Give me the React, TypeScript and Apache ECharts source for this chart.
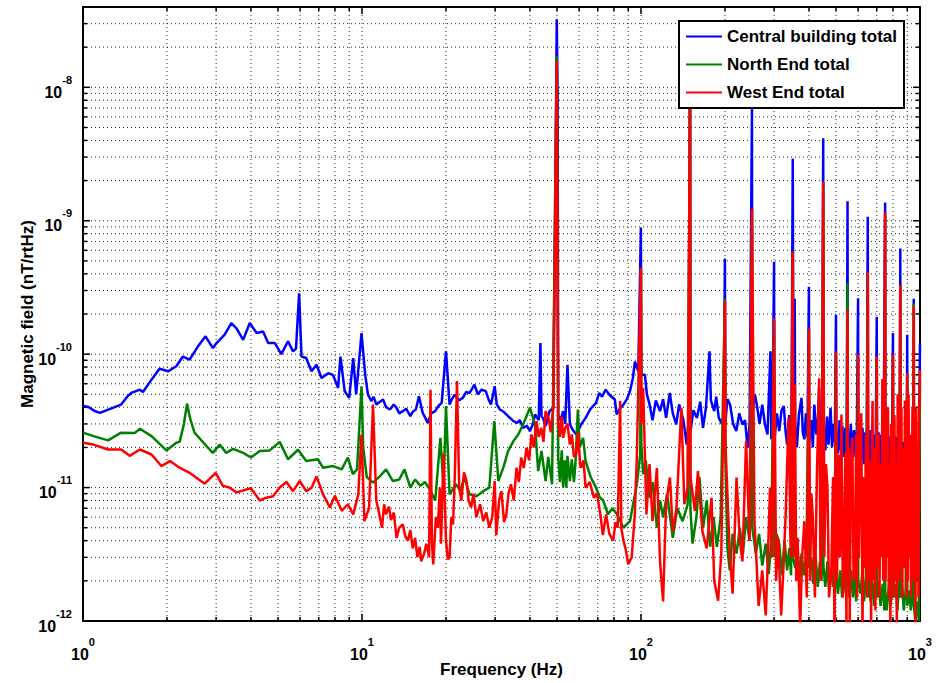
import React, { useEffect, useRef } from "react";
import * as echarts from "echarts";

const FONT = '"Liberation Sans", Arial, Helvetica, sans-serif';

const seriesNames = ["Central building total", "North End total", "West End total"];
const seriesColors = ["#0000ff", "#008000", "#ff0000"];

// [frequency Hz, field nT/rtHz]
const centralBuilding: number[][] = [
  [1.0, 4.1e-11], [1.05, 4.0e-11], [1.1, 3.75e-11], [1.15, 3.63e-11], [1.25, 3.89e-11], [1.37, 4.19e-11],
  [1.44, 4.8e-11], [1.49, 5.12e-11], [1.6, 5.42e-11], [1.64, 5.2e-11], [1.76, 6.44e-11], [1.88, 7.78e-11],
  [2.02, 7.44e-11], [2.16, 8.11e-11], [2.28, 9.6e-11], [2.41, 9.1e-11], [2.58, 1.14e-10], [2.75, 1.36e-10],
  [2.92, 1.11e-10], [3.0, 1.2e-10], [3.22, 1.4e-10], [3.4, 1.71e-10], [3.55, 1.56e-10], [3.75, 1.28e-10],
  [3.96, 1.71e-10], [4.19, 1.44e-10], [4.42, 1.48e-10], [4.61, 1.21e-10], [4.87, 1.21e-10], [5.14, 1.0e-10],
  [5.43, 1.25e-10], [5.66, 1.05e-10], [5.8, 1.1e-10], [5.95, 2.86e-10], [6.07, 9.6e-11], [6.31, 9.35e-11],
  [6.59, 7.44e-11], [6.87, 8.33e-11], [7.16, 6.63e-11], [7.56, 7.2e-11], [7.87, 7.0e-11], [8.21, 5.58e-11],
  [8.37, 9.6e-11], [8.67, 5.27e-11], [9.0, 4.7e-11], [9.3, 9.35e-11], [9.53, 5.0e-11], [9.96, 1.44e-10],
  [10.27, 7.0e-11], [10.5, 5.0e-11], [10.8, 4.45e-11], [11.0, 4.8e-11], [11.26, 4.19e-11], [11.6, 4.4e-11],
  [11.9, 4.57e-11], [12.2, 4.0e-11], [12.6, 3.85e-11], [13.0, 4.2e-11], [13.3, 3.96e-11], [13.6, 3.6e-11],
  [14.0, 3.74e-11], [14.4, 3.9e-11], [14.9, 3.43e-11], [15.2, 3.7e-11], [15.6, 3.85e-11], [16.0, 4.84e-11],
  [16.5, 3.63e-11], [16.9, 3.3e-11], [17.2, 3.05e-11], [17.7, 3.6e-11], [18.3, 3.74e-11], [18.8, 4.1e-11],
  [19.3, 4.32e-11], [20.0, 1.05e-10], [20.6, 4.19e-11], [21.0, 4.6e-11], [21.5, 4.97e-11], [22.2, 4.5e-11],
  [23.0, 4.7e-11], [23.6, 5.2e-11], [24.3, 5.12e-11], [25.3, 5.9e-11], [26.0, 5.0e-11], [26.8, 5.42e-11],
  [27.8, 5.27e-11], [28.4, 4.6e-11], [29.0, 4.19e-11], [29.9, 5.75e-11], [30.4, 4.2e-11], [31.2, 3.85e-11],
  [32.2, 3.7e-11], [33.4, 3.43e-11], [34.6, 3.2e-11], [35.8, 3.05e-11], [36.8, 3.2e-11], [37.8, 2.8e-11],
  [39.0, 2.9e-11], [40.0, 2.65e-11], [41.0, 3.0e-11], [41.7, 3.53e-11], [43.0, 3.2e-11], [43.6, 1.21e-10],
  [44.0, 3.4e-11], [44.5, 3.33e-11], [45.5, 2.9e-11], [47.0, 3.74e-11], [48.5, 3.96e-11], [49.9, 3.24e-8],
  [50.25, 8.6e-9], [50.5, 3.5e-11], [51.5, 3.2e-11], [52.6, 3.74e-11], [53.5, 3.0e-11], [54.5, 8.33e-11],
  [55.6, 2.97e-11], [57.0, 2.7e-11], [58.6, 2.5e-11], [61.0, 2.97e-11], [63.3, 3.33e-11], [66.0, 3.9e-11],
  [69.0, 4.32e-11], [70.8, 5.12e-11], [72.5, 4.8e-11], [74.7, 5.42e-11], [77.5, 4.9e-11], [80.6, 4.57e-11],
  [81.8, 3.53e-11], [84.0, 3.9e-11], [86.5, 4.19e-11], [89.0, 4.6e-11], [91.3, 5.27e-11], [93.5, 6.6e-11],
  [95.1, 8.8e-11], [97.8, 7.44e-11], [99.9, 8.85e-10], [100.3, 7.0e-11], [103.3, 7.0e-11], [105, 5.0e-11],
  [107.3, 4.2e-11], [110, 3.2e-11], [113, 4.5e-11], [117, 3.74e-11], [120, 4.6e-11], [123, 3.33e-11],
  [126.8, 5.12e-11], [130, 3.6e-11], [133.7, 2.97e-11], [137, 4.2e-11], [141.9, 3.2e-11], [145.8, 2.1e-11],
  [147.8, 3.0e-11], [149.9, 1.5e-8], [150.4, 2.6e-11], [154, 3.8e-11], [158.7, 3.33e-11], [163, 4.4e-11],
  [166.8, 2.8e-11], [171, 4.0e-11], [176, 1.05e-10], [178, 4.5e-11], [183, 3.74e-11], [186, 4.8e-11],
  [190, 3.33e-11], [195, 3.0e-11], [197.8, 3.5e-11], [199.9, 5.2e-10], [200.5, 3.0e-11], [204, 4.6e-11],
  [208.5, 4.19e-11], [214, 3.0e-11], [219.6, 2.65e-11], [225, 3.6e-11], [231, 2.97e-11], [236, 3.2e-11],
  [241, 1.98e-11], [245, 3.0e-11], [249.9, 6.9e-9], [250.4, 3.5e-11], [256, 4.97e-11], [260, 4.2e-11],
  [266, 3.0e-11], [272, 4.19e-11], [278, 3.0e-11], [284, 2.5e-11], [291, 1.05e-10], [293, 2.3e-11],
  [296, 3.0e-11], [299.9, 4.93e-10], [300.5, 2.2e-11], [307, 3.6e-11], [313, 2.65e-11], [319, 3.8e-11],
  [325, 4.08e-11], [330, 2.6e-11], [334, 2.1e-11], [340, 3.5e-11], [346, 2.4e-11], [349.9, 2.92e-9],
  [352, 3.0e-11], [355.5, 2.6e-10], [357, 3.0e-11], [362, 2.0e-11], [368, 3.5e-11], [376, 4.7e-11],
  [380, 2.6e-11], [385, 2.3e-11], [390, 3.6e-11], [395, 2.4e-11], [399.9, 3.2e-10], [400.5, 2.2e-11],
  [408, 3.2e-11], [413, 2.0e-11], [418, 4.19e-11], [425, 2.5e-11], [430, 3.0e-11], [435, 5.58e-11],
  [440, 2.2e-11], [446, 2.8e-11], [449.9, 4.16e-9], [451, 3.0e-11], [458, 1.9e-11], [464, 3.4e-11],
  [470, 2.1e-11], [478, 3.96e-11], [484, 2.0e-11], [490, 3.0e-11], [495, 2.2e-11], [499.9, 1.97e-10],
  [500.5, 2.8e-11], [508, 1.8e-11], [515, 3.2e-11], [520, 1.9e-11], [527, 2.9e-11], [535, 1.7e-11],
  [540, 2.8e-11], [546, 1.8e-11], [549.9, 1.4e-9], [551, 2.6e-11], [558, 1.7e-11], [565, 3.0e-11],
  [572, 1.6e-11], [580, 2.7e-11], [588, 1.7e-11], [594, 2.8e-11], [599.9, 2.62e-10], [600.6, 1.9e-11],
  [608, 2.8e-11], [615, 1.6e-11], [622, 2.8e-11], [630, 1.5e-11], [637, 2.6e-11], [644, 1.6e-11],
  [649.9, 1.07e-9], [651, 2.5e-11], [658, 1.5e-11], [666, 2.7e-11], [674, 1.4e-11], [681, 2.5e-11],
  [688, 1.5e-11], [694, 2.4e-11], [699.9, 1.9e-10], [701, 1.7e-11], [710, 2.6e-11], [718, 1.4e-11],
  [726, 2.5e-11], [734, 1.5e-11], [741, 2.4e-11], [749.9, 1.37e-9], [751, 2.2e-11], [760, 1.4e-11],
  [768, 2.5e-11], [777, 1.4e-11], [785, 2.4e-11], [793, 1.3e-11], [799.9, 1.44e-10], [801, 2.0e-11],
  [810, 1.3e-11], [820, 2.4e-11], [830, 1.3e-11], [840, 2.3e-11], [846, 1.2e-11], [849.9, 6.2e-10],
  [851, 2.0e-11], [860, 1.2e-11], [870, 2.2e-11], [880, 1.2e-11], [890, 2.1e-11], [896, 1.1e-11],
  [899.9, 1.4e-10], [901, 1.8e-11], [910, 1.1e-11], [920, 2.0e-11], [930, 1.0e-11], [940, 1.9e-11],
  [946, 9.5e-12], [949.9, 2.6e-10], [951, 1.7e-11], [960, 9.0e-12], [970, 1.6e-11], [980, 9.0e-12],
  [990, 1.4e-11], [999.9, 1.21e-10],
];

const northEnd: number[][] = [
  [1.0, 2.58e-11], [1.09, 2.43e-11], [1.23, 2.26e-11], [1.37, 2.58e-11], [1.53, 2.56e-11], [1.6, 2.76e-11],
  [1.76, 2.43e-11], [1.99, 1.9e-11], [2.16, 2.17e-11], [2.22, 2.2e-11], [2.3, 3.0e-11], [2.36, 4.26e-11],
  [2.42, 3.3e-11], [2.51, 2.58e-11], [2.77, 2.05e-11], [2.92, 1.82e-11], [3.09, 2.1e-11], [3.26, 1.82e-11],
  [3.45, 1.95e-11], [3.75, 1.82e-11], [4.0, 1.68e-11], [4.3, 1.88e-11], [4.67, 1.9e-11], [5.07, 2.2e-11],
  [5.43, 1.63e-11], [5.9, 1.92e-11], [6.31, 1.58e-11], [6.95, 1.63e-11], [7.25, 1.41e-11], [7.87, 1.45e-11],
  [8.46, 1.37e-11], [8.9, 1.68e-11], [9.27, 1.26e-11], [9.6, 1.37e-11], [9.96, 5.75e-11], [10.1, 2.0e-11],
  [10.4, 1.2e-11], [10.95, 1.09e-11], [11.6, 1.22e-11], [12.2, 1.37e-11], [12.9, 1.12e-11], [13.6, 1.15e-11],
  [14.2, 1.37e-11], [14.9, 1.0e-11], [15.5, 1.15e-11], [16.2, 1.03e-11], [16.8, 1.1e-11], [17.5, 9.7e-12],
  [18.3, 8.0e-12], [19.1, 2.36e-11], [19.6, 1.0e-11], [20.0, 4.08e-11], [20.6, 8.9e-12], [21.7, 1.06e-11],
  [22.5, 9.5e-12], [23.3, 1.19e-11], [24.3, 8.9e-12], [25.7, 8.6e-12], [27.2, 9.4e-12], [28.6, 1.0e-11],
  [29.8, 3.15e-11], [30.8, 1.12e-11], [32.1, 1.41e-11], [33.4, 1.88e-11], [34.9, 2.23e-11], [36.3, 2.5e-11],
  [37.8, 2.97e-11], [40.0, 3.96e-11], [41.7, 2.97e-11], [42.8, 1.33e-11], [44.0, 1.88e-11], [45.5, 1.12e-11],
  [46.5, 1.7e-11], [48.0, 1.06e-11], [49.9, 1.7e-8], [50.5, 1.68e-11], [51.2, 1.1e-11], [52.0, 1.9e-11],
  [52.6, 1.0e-11], [53.3, 1.6e-11], [54.0, 1.0e-11], [54.5, 1.73e-11], [55.6, 1.12e-11], [56.5, 1.63e-11],
  [57.5, 1.1e-11], [58.2, 1.5e-11], [59.4, 3.85e-11], [60.3, 2.0e-11], [62.0, 2.36e-11], [63.3, 1.58e-11],
  [66.0, 1.2e-11], [69.0, 1.0e-11], [71.0, 8.5e-12], [73.2, 8.0e-12], [76.1, 6.3e-12], [79.0, 7.0e-12],
  [82.0, 6.3e-12], [86.5, 5.0e-12], [91.3, 5.6e-12], [96.6, 1.06e-11], [99.4, 1.77e-11], [99.9, 4.4e-10],
  [100.3, 2.1e-11], [101.8, 1.26e-11], [104, 1.6e-11], [107.3, 8.4e-12], [110, 1.1e-11], [114, 5.0e-12],
  [117, 8.0e-12], [120, 6.0e-12], [124, 9.0e-12], [130, 4.2e-12], [135, 7.0e-12], [141, 5.6e-12],
  [147, 7.5e-12], [149.9, 1.5e-8], [150.3, 7.0e-12], [153, 3.8e-12], [158, 6.0e-12], [162, 1.2e-11],
  [167, 5.0e-12], [172, 8.0e-12], [177, 3.6e-12], [182, 6.0e-12], [187, 3.6e-12], [193, 6.0e-12],
  [199.9, 2.6e-10], [200.5, 1.77e-11], [204, 3.5e-12], [208, 2.4e-12], [213, 4.5e-12], [220, 3.2e-12],
  [226, 5.0e-12], [232, 3.2e-12], [238, 6.0e-12], [245, 4.0e-12], [249.9, 1.2e-9], [250.5, 5.0e-12],
  [258, 3.2e-12], [265, 4.5e-12], [272, 2.6e-12], [280, 3.8e-12], [287, 2.25e-12], [293, 4.0e-12],
  [299.9, 1.8e-10], [300.5, 3.0e-12], [306, 4.5e-12], [313, 3.8e-12], [320, 2.2e-12], [327, 4.0e-12],
  [334, 2.4e-12], [340, 3.5e-12], [345, 2.2e-12], [349.9, 5.8e-10], [350.5, 3.0e-12], [357, 2.5e-12],
  [364, 3.6e-12], [369, 2.0e-12], [376, 3.2e-12], [384, 2.2e-12], [392, 3.4e-12], [399.9, 1.5e-10],
  [400.5, 2.5e-12], [408, 3.0e-12], [415, 1.9e-12], [422, 3.2e-12], [430, 1.8e-12], [438, 2.8e-12],
  [444, 2.0e-12], [449.9, 1.9e-9], [450.5, 2.6e-12], [458, 1.8e-12], [466, 2.8e-12], [473, 1.7e-12],
  [480, 2.5e-12], [488, 1.8e-12], [494, 2.6e-12], [499.9, 1.0e-10], [500.5, 2.2e-12], [508, 1.6e-12],
  [518, 2.4e-12], [526, 1.5e-12], [534, 2.3e-12], [542, 1.6e-12], [549.9, 3.4e-10], [550.6, 2.1e-12],
  [558, 1.5e-12], [566, 2.4e-12], [575, 1.5e-12], [583, 2.2e-12], [591, 1.4e-12], [599.9, 9.5e-11],
  [600.6, 2.0e-12], [612, 1.6e-12], [621, 2.3e-12], [630, 1.4e-12], [640, 2.2e-12], [649.9, 4.1e-10],
  [650.6, 1.5e-12], [658, 2.2e-12], [665, 1.4e-12], [675, 2.0e-12], [685, 1.3e-12], [692, 2.0e-12],
  [699.9, 9.5e-11], [700.7, 1.5e-12], [710, 2.0e-12], [722, 1.3e-12], [735, 1.9e-12], [745, 1.2e-12],
  [749.9, 1.15e-9], [750.7, 1.7e-12], [760, 1.2e-12], [775, 1.9e-12], [785, 1.3e-12], [795, 1.8e-12],
  [799.9, 9.8e-11], [800.8, 1.5e-12], [815, 1.9e-12], [830, 1.2e-12], [840, 1.8e-12], [849.9, 3.3e-10],
  [850.8, 1.5e-12], [862, 1.9e-12], [875, 1.2e-12], [888, 1.7e-12], [899.9, 7.1e-11], [900.9, 1.3e-12],
  [915, 1.7e-12], [927, 1.2e-12], [940, 1.6e-12], [949.9, 2.4e-10], [951, 1.3e-12], [962, 1.0e-12],
  [975, 1.4e-12], [990, 1.0e-12], [999.9, 6.5e-11],
];

const westEnd: number[][] = [
  [1.0, 2.17e-11], [1.09, 2.1e-11], [1.23, 1.93e-11], [1.37, 1.93e-11], [1.47, 1.73e-11], [1.6, 1.93e-11],
  [1.76, 1.77e-11], [1.91, 1.45e-11], [2.05, 1.58e-11], [2.22, 1.41e-11], [2.41, 1.29e-11], [2.6, 1.15e-11],
  [2.73, 1.07e-11], [2.99, 1.29e-11], [3.17, 1.03e-11], [3.35, 1.0e-11], [3.55, 9.2e-12], [3.8, 9.6e-12],
  [4.0, 9.9e-12], [4.3, 8.0e-12], [4.54, 8.4e-12], [4.8, 8.6e-12], [5.07, 1.0e-11], [5.36, 1.1e-11],
  [5.66, 9.4e-12], [5.98, 1.12e-11], [6.31, 9.4e-12], [6.6, 1.0e-11], [6.87, 1.21e-11], [7.25, 8.9e-12],
  [7.67, 7.1e-12], [8.0, 8.7e-12], [8.46, 6.7e-12], [8.9, 7.5e-12], [9.3, 6.3e-12], [9.7, 8.9e-12],
  [9.96, 2.5e-11], [10.2, 5.6e-12], [10.6, 7.0e-12], [10.95, 4.2e-11], [11.25, 8.0e-12], [11.5, 6.5e-12],
  [11.8, 5.0e-12], [12.0, 7.5e-12], [12.2, 6.3e-12], [12.5, 7.2e-12], [12.7, 5.7e-12], [13.0, 6.5e-12],
  [13.3, 4.2e-12], [13.6, 5.0e-12], [14.0, 5.3e-12], [14.3, 4.3e-12], [14.6, 4.0e-12], [14.9, 4.8e-12],
  [15.2, 3.5e-12], [15.5, 4.2e-12], [15.8, 3.0e-12], [16.1, 3.6e-12], [16.3, 2.8e-12], [16.7, 3.2e-12],
  [17.0, 3.8e-12], [17.4, 3.0e-12], [17.6, 5.4e-11], [17.8, 4.0e-12], [18.0, 2.66e-12], [18.4, 6.0e-12],
  [18.7, 5.0e-12], [19.0, 1.0e-11], [19.2, 3.8e-12], [19.6, 1.8e-11], [20.0, 4.0e-12], [20.3, 2.9e-12],
  [20.6, 3.0e-12], [20.9, 6.0e-12], [21.2, 5.3e-12], [21.5, 1.2e-11], [21.9, 6.3e-11], [22.3, 1.0e-11],
  [22.7, 8.0e-12], [23.2, 1.3e-11], [23.7, 1.12e-11], [24.1, 8.0e-12], [24.6, 7.1e-12], [25.1, 9.0e-12],
  [25.7, 6.0e-12], [26.5, 7.5e-12], [27.2, 5.6e-12], [27.9, 6.5e-12], [28.6, 5.0e-12], [29.3, 6.0e-12],
  [29.9, 1.12e-11], [30.3, 4.4e-12], [31.0, 8.0e-12], [31.6, 9.4e-12], [32.3, 5.5e-12], [32.9, 6.3e-12],
  [33.5, 9.0e-12], [34.2, 1.06e-11], [35.0, 8.0e-12], [35.8, 1.41e-11], [36.5, 1.1e-11], [37.2, 1.68e-11],
  [38.0, 1.4e-11], [38.9, 1.99e-11], [39.7, 1.6e-11], [40.5, 2.5e-11], [41.3, 2.0e-11], [42.2, 3.15e-11],
  [43.0, 2.4e-11], [43.9, 2.8e-11], [44.7, 2.2e-11], [45.5, 3.74e-11], [46.7, 3.3e-11], [47.5, 2.6e-11],
  [48.5, 4.0e-11], [49.9, 1.58e-8], [50.5, 3.15e-11], [51.2, 2.4e-11], [52.0, 3.4e-11], [52.6, 2.36e-11],
  [53.5, 2.8e-11], [54.5, 3.0e-11], [55.6, 2.1e-11], [56.5, 2.5e-11], [57.5, 1.7e-11], [58.6, 1.77e-11],
  [59.5, 2.6e-11], [60.5, 1.5e-11], [61.0, 1.41e-11], [62.2, 1.6e-11], [63.3, 1.0e-11], [65.5, 1.1e-11],
  [67.8, 8.4e-12], [69.5, 9.0e-12], [71.5, 6.3e-12], [73.0, 4.4e-12], [75.0, 6.3e-12], [77.0, 4.5e-12],
  [79.5, 4.0e-12], [81.0, 5.5e-12], [82.5, 5.0e-12], [84.2, 4.45e-11], [85.0, 5.0e-12], [86.5, 4.0e-12],
  [88.0, 3.5e-12], [90.0, 2.66e-12], [92.6, 3.0e-12], [95.0, 6.3e-12], [96.6, 1.66e-11], [97.8, 5.6e-11],
  [99.9, 4.4e-10], [100.3, 3.0e-11], [101.8, 5.6e-11], [104.6, 6.3e-12], [107.3, 1.5e-11], [110, 5.6e-12],
  [114, 1.4e-11], [117, 2.8e-12], [120, 1.4e-12], [123, 7.5e-12], [127, 1.19e-11], [130, 4.7e-12],
  [134, 7.0e-12], [139.5, 3.96e-11], [143, 7.5e-12], [147, 1.0e-11], [149.9, 1.5e-8], [150.4, 1.2e-11],
  [156, 6.7e-12], [160, 1.33e-11], [166, 4.7e-12], [172, 3.5e-12], [179, 8.4e-12], [183, 2.0e-12],
  [189, 1.42e-12], [194, 3.2e-12], [199.9, 2.48e-10], [201, 2.0e-11], [208, 3.2e-12], [213, 1.6e-12],
  [220, 1.19e-11], [226, 4.0e-12], [231, 2.8e-12], [238, 2.23e-11], [245, 4.0e-12], [249.9, 1.23e-9],
  [255, 5.6e-12], [260, 2.5e-12], [264, 1.3e-12], [272, 2.4e-12], [280, 1.1e-12], [285, 3.0e-12],
  [290, 1.0e-11], [295, 3.0e-12], [299.9, 1.86e-10], [305, 2.0e-12], [310, 4.2e-12], [318, 1.1e-12],
  [324, 2.5e-12], [330, 6.3e-12], [338, 3.33e-11], [344, 3.0e-12], [349.9, 5.86e-10], [353, 3.0e-12],
  [356, 5.9e-11], [360, 2.0e-12], [364, 4.2e-12], [372, 9.0e-13], [378, 3.0e-12], [385, 5.6e-12],
  [393, 1.5e-12], [399.9, 1.56e-10], [404, 2.0e-12], [408, 9.0e-12], [413, 6.0e-12], [420, 1.5e-12],
  [427, 1.2e-11], [435, 6.6e-11], [440, 2.0e-12], [445, 1.0e-11], [449.9, 1.95e-9], [454, 3.0e-12],
  [460, 1.5e-11], [466, 1.0e-11], [472, 1.5e-12], [481, 2.4e-12], [488, 1.2e-11], [494, 8.0e-13],
  [499.9, 1.05e-10], [504, 2.0e-12], [510, 1.77e-11], [516, 3.0e-12], [523, 3.53e-11], [529, 1.5e-12],
  [535, 3.2e-12], [540, 1.8e-11], [545, 9.0e-13], [549.9, 2.15e-10], [552, 4.0e-12], [556, 2.0e-11],
  [560, 9.0e-13], [565, 1.2e-11], [572, 2.36e-11], [578, 2.0e-12], [585, 2.4e-12], [590, 2.5e-11],
  [595, 1.5e-12], [599.9, 1.0e-10], [604, 3.0e-12], [610, 1.5e-11], [616, 3.6e-11], [622, 8.0e-13],
  [628, 1.2e-11], [634, 2.5e-12], [640, 2.5e-11], [645, 1.5e-12], [649.9, 4.15e-10], [654, 2.0e-12],
  [658, 1.6e-11], [663, 8.0e-12], [668, 9.0e-13], [672, 1.5e-11], [676, 4.45e-11], [680, 2.0e-12],
  [686, 2.0e-11], [692, 1.2e-12], [699.9, 9.6e-11], [704, 2.5e-12], [710, 2.5e-11], [716, 1.5e-12],
  [722, 1.5e-11], [728, 3.0e-12], [733, 6.5e-11], [738, 2.0e-12], [744, 2.0e-11], [749.9, 1.16e-9],
  [753, 2.0e-12], [758, 2.5e-11], [763, 3.0e-12], [768, 4.0e-11], [773, 1.5e-12], [778, 1.5e-11],
  [783, 9.0e-13], [788, 3.0e-11], [794, 2.5e-12], [799.9, 9.9e-11], [804, 1.5e-12], [810, 3.5e-11],
  [815, 2.0e-12], [820, 1.5e-11], [826, 9.0e-13], [832, 5.0e-11], [838, 1.5e-11], [843, 2.0e-12],
  [849.9, 3.3e-10], [853, 3.0e-12], [858, 4.0e-11], [864, 1.5e-12], [870, 2.0e-11], [876, 2.5e-12],
  [883, 4.5e-11], [890, 1.5e-11], [895, 1.5e-12], [899.9, 7.2e-11], [904, 2.0e-12], [910, 5.0e-11],
  [916, 3.0e-12], [922, 2.5e-11], [928, 1.5e-12], [935, 1.0e-11], [940, 4.0e-11], [945, 2.0e-12],
  [949.9, 2.3e-10], [953, 3.0e-12], [958, 2.5e-11], [963, 9.0e-13], [970, 4.0e-11], [976, 2.0e-12],
  [982, 2.0e-11], [988, 1.5e-12], [993, 3.0e-11], [999.9, 7.6e-11],
];

// grid / tick positions (log axes)
const xGridValues = [2, 3, 4, 5, 6, 7, 8, 9, 10, 20, 30, 40, 50, 60, 70, 80, 90, 100, 200, 300, 400, 500, 600, 700, 800, 900];
const yGridValues = [
  2e-12, 3e-12, 4e-12, 5e-12, 6e-12, 7e-12, 8e-12, 9e-12, 1e-11,
  2e-11, 3e-11, 4e-11, 5e-11, 6e-11, 7e-11, 8e-11, 9e-11, 1e-10,
  2e-10, 3e-10, 4e-10, 5e-10, 6e-10, 7e-10, 8e-10, 9e-10, 1e-9,
  2e-9, 3e-9, 4e-9, 5e-9, 6e-9, 7e-9, 8e-9, 9e-9, 1e-8,
  2e-8, 3e-8,
];
const X_MIN = 1;
const X_MAX = 1000;
const Y_MIN = 1e-12;
const Y_MAX = 4e-8;

function isDecade(v: number) {
  const e = Math.log10(v);
  return Math.abs(e - Math.round(e)) < 1e-6;
}

export default function App() {
  const ref = useRef<HTMLDivElement>(null);
  useEffect(() => {
    if (!ref.current) return;
    const chart = echarts.init(ref.current, undefined, { renderer: "svg" });

    const expLabel = (v: number) => {
      if (!isDecade(v)) return "";
      return `{b|10}{s|${Math.round(Math.log10(v))}}`;
    };
    const makeRich = (pad: number) => ({
      b: { fontSize: 16, fontWeight: "bold", fontFamily: FONT, color: "#000", padding: [pad, 0, 0, 0] },
      s: { fontSize: 11, fontWeight: "bold", fontFamily: FONT, color: "#000", verticalAlign: "top" },
    });
    const nameStyle = { fontSize: 17, fontWeight: "bold", fontFamily: FONT, color: "#000" };
    const gridDash = { stroke: "#000", lineWidth: 1, lineDash: [1, 3], opacity: 0.85 };
    const tickStyle = { stroke: "#000", lineWidth: 1.5 };

    const option: any = {
      animation: false,
      backgroundColor: "#fff",
      grid: { left: 83, top: 7, right: 21, bottom: 60, show: true, backgroundColor: "#fff", borderWidth: 0 },
      xAxis: [
        {
          type: "log", logBase: 10, min: X_MIN, max: X_MAX, position: "bottom",
          axisLine: { show: true, lineStyle: { color: "#000", width: 2 } },
          axisTick: { show: false }, splitLine: { show: false }, minorTick: { show: false },
          axisLabel: { formatter: expLabel, rich: makeRich(10), margin: 15 },
          name: "Frequency (Hz)", nameLocation: "middle", nameGap: 40, nameMoveOverlap: false,
          nameTextStyle: nameStyle,
        },
        {
          type: "log", logBase: 10, min: X_MIN, max: X_MAX, position: "top",
          axisLine: { show: true, lineStyle: { color: "#000", width: 2 } },
          axisTick: { show: false }, splitLine: { show: false }, axisLabel: { show: false },
        },
      ],
      yAxis: [
        {
          type: "log", logBase: 10, min: Y_MIN, max: Y_MAX, position: "left",
          axisLine: { show: true, lineStyle: { color: "#000", width: 2 } },
          axisTick: { show: false }, splitLine: { show: false }, minorTick: { show: false },
          axisLabel: { formatter: expLabel, rich: makeRich(10), margin: 11 },
          name: "Magnetic field (nT/rtHz)", nameLocation: "middle", nameGap: 47, nameMoveOverlap: false,
          nameTextStyle: nameStyle,
        },
        {
          type: "log", logBase: 10, min: Y_MIN, max: Y_MAX, position: "right",
          axisLine: { show: true, lineStyle: { color: "#000", width: 2 } },
          axisTick: { show: false }, splitLine: { show: false }, axisLabel: { show: false },
        },
      ],
      legend: {
        data: seriesNames,
        orient: "vertical",
        left: 679,
        top: 21,
        itemWidth: 36,
        itemHeight: 2,
        itemGap: 11,
        icon: "rect",
        padding: [7, 7, 7, 7],
        borderColor: "#000",
        borderWidth: 2,
        borderRadius: 0,
        backgroundColor: "#fff",
        selectedMode: false,
        textStyle: { fontSize: 17, fontWeight: "bold", fontFamily: FONT, color: "#000" },
        z: 10,
      },
      series: [
        {
          type: "custom",
          name: "xgrid",
          silent: true,
          z: 1,
          xAxisIndex: 0,
          yAxisIndex: 0,
          data: xGridValues.map((v) => [v, 1e-10]),
          renderItem: (params: any, api: any) => {
            const cs = params.coordSys;
            const v = api.value(0);
            const px = api.coord([v, 1e-10])[0];
            const tl = isDecade(v) ? 7 : 4;
            const bottom = cs.y + cs.height;
            return {
              type: "group",
              children: [
                { type: "line", shape: { x1: px, y1: cs.y, x2: px, y2: bottom }, style: gridDash },
                { type: "line", shape: { x1: px, y1: bottom, x2: px, y2: bottom - tl }, style: tickStyle },
                { type: "line", shape: { x1: px, y1: cs.y, x2: px, y2: cs.y + tl }, style: tickStyle },
              ],
            };
          },
        },
        {
          type: "custom",
          name: "ygrid",
          silent: true,
          z: 1,
          xAxisIndex: 0,
          yAxisIndex: 0,
          data: yGridValues.map((v) => [10, v]),
          renderItem: (params: any, api: any) => {
            const cs = params.coordSys;
            const v = api.value(1);
            const py = api.coord([10, v])[1];
            const tl = isDecade(v) ? 7 : 4;
            const right = cs.x + cs.width;
            return {
              type: "group",
              children: [
                { type: "line", shape: { x1: cs.x, y1: py, x2: right, y2: py }, style: gridDash },
                { type: "line", shape: { x1: cs.x, y1: py, x2: cs.x + tl, y2: py }, style: tickStyle },
                { type: "line", shape: { x1: right, y1: py, x2: right - tl, y2: py }, style: tickStyle },
              ],
            };
          },
        },
        ...[centralBuilding, northEnd, westEnd].map((d, i) => ({
          name: seriesNames[i],
          type: "line",
          xAxisIndex: 0,
          yAxisIndex: 0,
          data: d,
          showSymbol: false,
          symbol: "none",
          clip: true,
          z: 2,
          lineStyle: { color: seriesColors[i], width: 2.5, join: "bevel" },
          itemStyle: { color: seriesColors[i] },
        })),
      ],
    };
    chart.setOption(option);
    return () => chart.dispose();
  }, []);
  return <div ref={ref} style={{ position: "fixed", left: 0, top: 0, width: 941, height: 683 }} />;
}
